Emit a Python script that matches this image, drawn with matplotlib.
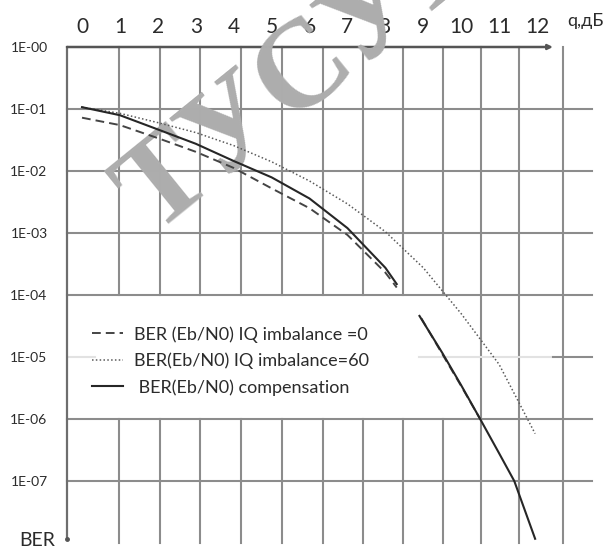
"""BER vs q (dB) chart: IQ imbalance with and without compensation."""

import matplotlib

matplotlib.use("Agg")

import matplotlib.pyplot as plt
from matplotlib.lines import Line2D
from matplotlib.ticker import NullLocator

# --- data ------------------------------------------------------------------
Q_TICKS = list(range(13))
BER_TICKS = [1, 1e-1, 1e-2, 1e-3, 1e-4, 1e-5, 1e-6, 1e-7]
BER_TICK_LABELS = ["1E-00", "1E-01", "1E-02", "1E-03", "1E-04", "1E-05", "1E-06", "1E-07"]

# IQ imbalance = 0 (dashed)
q_ideal = [0, 1, 2, 3, 4, 5, 6, 7, 8, 8.3]
ber_ideal = [0.0724, 0.055, 0.0339, 0.0204, 0.0112, 5.25e-3, 2.51e-3, 9.3e-4, 2.3e-4, 1.32e-4]
q_ideal_tail = [8.95, 9.5, 10.0, 10.5]
ber_ideal_tail = [4.2e-5, 1.12e-5, 3.4e-6, 1.0e-6]

# IQ imbalance = 60 (dotted)
q_imb = [0, 1, 2, 3, 4, 5, 6, 7, 8, 9, 10, 11, 11.95]
ber_imb = [0.107, 0.0851, 0.0603, 0.0417, 0.0257, 0.0141, 6.9e-3, 2.95e-3,
           1.05e-3, 2.75e-4, 5.0e-5, 7.6e-6, 5.8e-7]

# compensation (solid)
q_comp = [0, 1, 2, 3, 4, 5, 6, 7, 8, 8.3]
ber_comp = [0.107, 0.0794, 0.0468, 0.0275, 0.0145, 7.9e-3, 3.6e-3, 1.2e-3, 2.75e-4, 1.5e-4]
q_comp_tail = [8.9, 9.5, 10.0, 10.5, 11.0, 11.4, 11.95]
ber_comp_tail = [4.6e-5, 1.17e-5, 3.5e-6, 1.0e-6, 2.8e-7, 1.0e-7, 1.17e-8]

LEGEND_LABELS = [
    "BER (Eb/N0) IQ imbalance =0",
    "BER(Eb/N0) IQ imbalance=60",
    " BER(Eb/N0) compensation",
]

# --- style -------------------------------------------------------------------
GRID_X = [0.98, 2.06, 3.11, 4.19, 5.27, 6.36, 7.41, 8.47, 9.52, 10.52, 11.52, 12.68]
X_MIN, X_MAX = -0.396, 13.45
X_ARROW = 12.42
Y_MIN, Y_MAX = 1e-8, 1.0
LEGEND_RIGHT = 9.97  # grid is blanked left of this inside the legend band
GRID_COLOR = "#8c8c8c"
LIGHT_GRID = "#e2e2e2"
TEXT_COLOR = "#2b2b2b"
FONT = ["Lato", "DejaVu Sans"]

plt.rcParams["font.family"] = FONT

W, H = 611, 549
fig = plt.figure(figsize=(W / 100, H / 100), dpi=100)
# axes box in pixels: left 67, right 592, top 47, bottom 543
ax = fig.add_axes([67 / W, (H - 543) / H, (592 - 67) / W, (543 - 47) / H])
ax.set_yscale("log")
ax.set_xlim(X_MIN, X_MAX)
ax.set_ylim(Y_MIN, Y_MAX)
for spine in ax.spines.values():
    spine.set_visible(False)

# grid: vertical lines (blank inside the legend band)
for gx in GRID_X:
    if gx < LEGEND_RIGHT:
        ax.plot([gx, gx], [Y_MAX, 1e-4], color=GRID_COLOR, lw=1.5, zorder=1, clip_on=False)
        ax.plot([gx, gx], [1e-6, Y_MIN], color=GRID_COLOR, lw=1.5, zorder=1, clip_on=False)
    else:
        ax.plot([gx, gx], [Y_MAX, Y_MIN], color=GRID_COLOR, lw=1.5, zorder=1, clip_on=False)

# grid: horizontal lines
for yv in BER_TICKS[1:]:
    if yv == 1e-5:
        ax.plot([X_MIN, 0.34], [yv, yv], color=LIGHT_GRID, lw=1.5, zorder=1)
        ax.plot([8.9, X_ARROW], [yv, yv], color=LIGHT_GRID, lw=1.5, zorder=1)
        ax.plot([X_ARROW, X_MAX], [yv, yv], color=GRID_COLOR, lw=1.5, zorder=1, clip_on=False)
    else:
        ax.plot([X_MIN, X_MAX], [yv, yv], color=GRID_COLOR, lw=1.5, zorder=1, clip_on=False)

# axes drawn by hand: left axis with end dot, top axis with arrow
ax.plot([X_MIN, X_MIN], [Y_MAX, 1.15e-8], color="#6e6e6e", lw=1.6, zorder=2, clip_on=False)
ax.plot([X_MIN], [1.15e-8], marker="o", ms=2.5, color="#555555", zorder=2, clip_on=False)
ax.annotate("", xy=(X_ARROW, Y_MAX), xytext=(X_MIN, Y_MAX),
            arrowprops=dict(arrowstyle="-|>", color="#555555", lw=1.8,
                            mutation_scale=7, shrinkA=0, shrinkB=0),
            annotation_clip=False, zorder=2)

# watermark
ax.text(302 / W, 1 - 76 / H, "ТУСУР", transform=fig.transFigure,
        rotation=39, rotation_mode="anchor", ha="center", va="center",
        fontsize=90, family="Liberation Serif", fontweight="bold",
        color="#adadad", zorder=2, clip_on=False)

# curves
dashed = dict(color="#444444", lw=1.4, ls=(0, (4.5, 2.6)), zorder=3)
dotted = dict(color="#5a5a5a", lw=1.1, ls=(0, (1, 1.5)), zorder=3)
solid = dict(color="#262626", lw=1.5, ls="-", zorder=3)

ax.plot(q_ideal, ber_ideal, **dashed)
ax.plot(q_ideal_tail, ber_ideal_tail, **dashed)
ax.plot(q_imb, ber_imb, **dotted)
ax.plot(q_comp, ber_comp, **solid)
ax.plot(q_comp_tail, ber_comp_tail, **solid)

# ticks
ax.xaxis.tick_top()
ax.set_xticks(Q_TICKS)
ax.set_xticklabels([str(q) for q in Q_TICKS], fontsize=15, color=TEXT_COLOR)
ax.set_yticks(BER_TICKS)
ax.set_yticklabels(BER_TICK_LABELS, fontsize=10, color=TEXT_COLOR)
ax.yaxis.set_minor_locator(NullLocator())
ax.tick_params(axis="x", length=0, pad=7.5)
ax.tick_params(axis="y", length=0, pad=14)

fig.text(567 / W, 1 - 21 / H, "q,дБ", fontsize=13, color=TEXT_COLOR,
         ha="left", va="center")
fig.text(37 / W, 1 - 541 / H, "BER", fontsize=14, color=TEXT_COLOR,
         ha="center", va="center")

handles = [Line2D([], [], **dashed), Line2D([], [], **dotted), Line2D([], [], **solid)]
ax.legend(handles, LEGEND_LABELS, loc="upper left",
          bbox_to_anchor=(92 / W, 1 - 326 / H), bbox_transform=fig.transFigure,
          frameon=False, fontsize=13, handlelength=1.7, handletextpad=0.6,
          labelspacing=0.55, borderpad=0, borderaxespad=0, labelcolor=TEXT_COLOR)

fig.savefig("out.png", dpi=100)
